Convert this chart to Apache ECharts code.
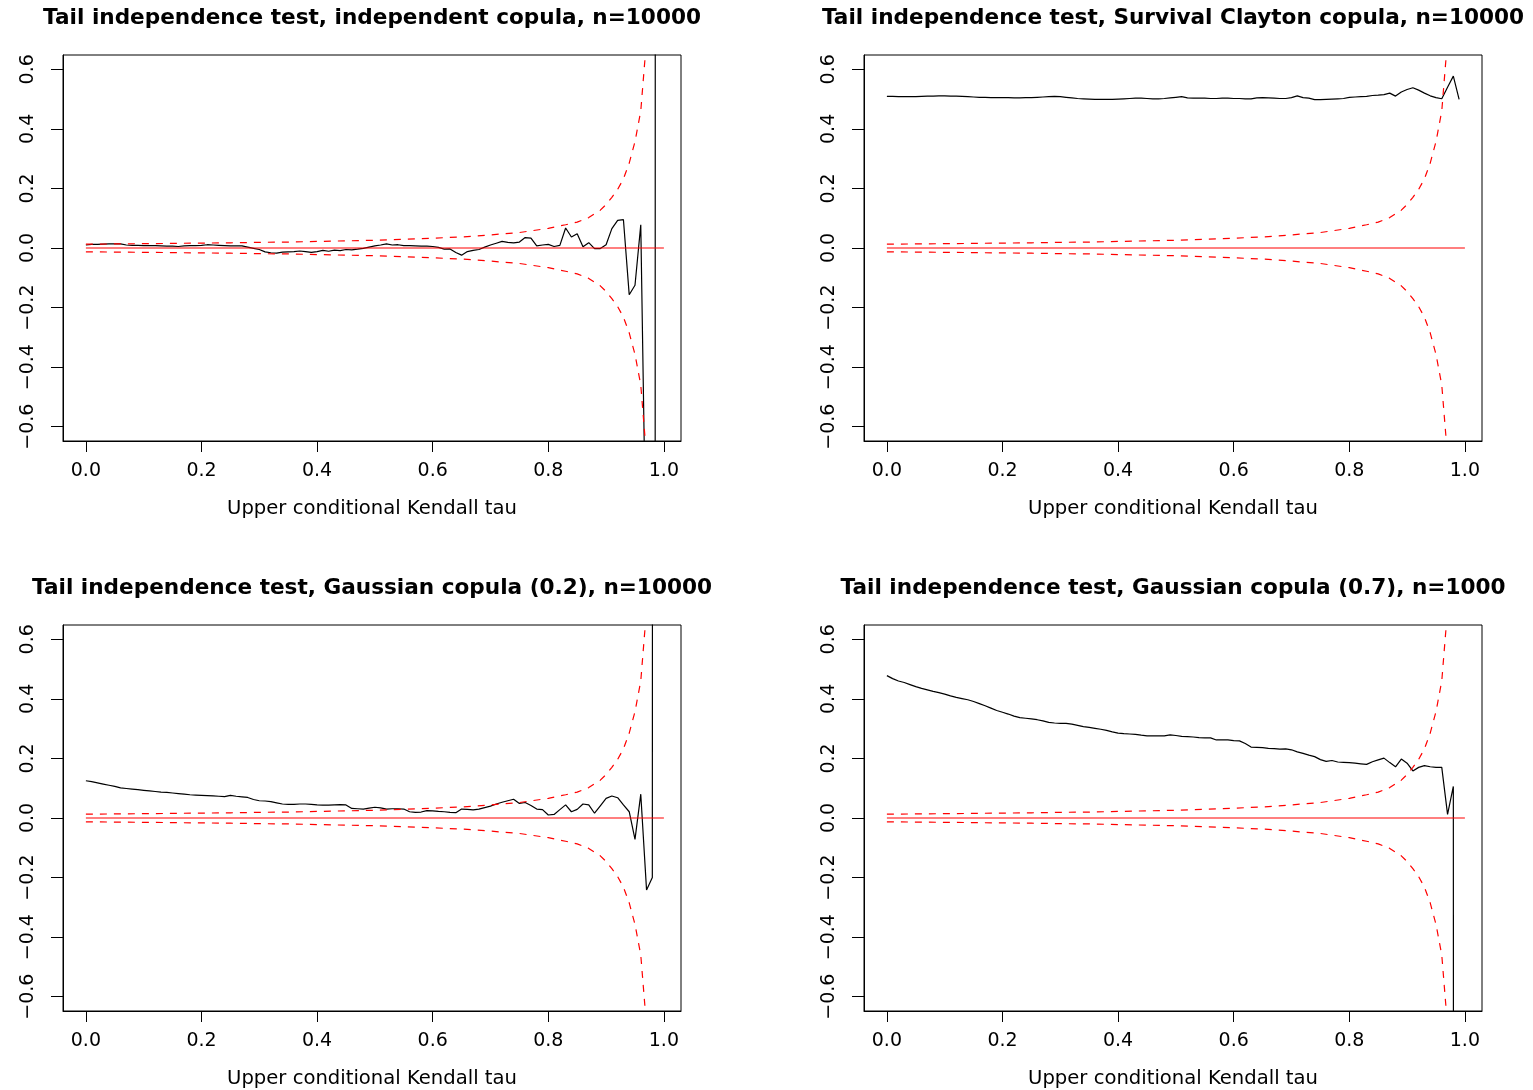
<!DOCTYPE html>
<html><head><meta charset="utf-8">
<script src="https://cdn.jsdelivr.net/npm/echarts@6/dist/echarts.min.js"></script>
<style>html,body{margin:0;padding:0;background:#fff}#c{width:1533px;height:1090px}</style>
</head><body><div id="c"></div>
<script>
// ---- data ----
const tau = [0.00,0.01,0.02,0.03,0.04,0.05,0.06,0.07,0.08,0.09,0.10,0.11,0.12,0.13,0.14,0.15,0.16,0.17,0.18,0.19,
0.20,0.21,0.22,0.23,0.24,0.25,0.26,0.27,0.28,0.29,0.30,0.31,0.32,0.33,0.34,0.35,0.36,0.37,0.38,0.39,
0.40,0.41,0.42,0.43,0.44,0.45,0.46,0.47,0.48,0.49,0.50,0.51,0.52,0.53,0.54,0.55,0.56,0.57,0.58,0.59,
0.60,0.61,0.62,0.63,0.64,0.65,0.66,0.67,0.68,0.69,0.70,0.71,0.72,0.73,0.74,0.75,0.76,0.77,0.78,0.79,
0.80,0.81,0.82,0.83,0.84,0.85,0.86,0.87,0.88,0.89,0.90,0.91,0.92,0.93,0.94,0.95,0.96,0.97,0.98,0.99];

const indepVals = [0.010,0.012,0.012,0.013,0.014,0.014,0.014,0.010,0.009,0.009,
0.008,0.008,0.008,0.007,0.006,0.006,0.005,0.007,0.008,0.008,
0.009,0.011,0.010,0.009,0.008,0.007,0.007,0.007,0.003,-0.001,
-0.005,-0.013,-0.016,-0.017,-0.014,-0.013,-0.012,-0.010,-0.012,-0.015,
-0.012,-0.008,-0.011,-0.007,-0.009,-0.005,-0.006,-0.004,-0.001,0.003,
0.007,0.010,0.014,0.010,0.011,0.008,0.008,0.007,0.006,0.006,
0.005,0.002,-0.004,-0.003,-0.015,-0.024,-0.012,-0.008,-0.005,0.003,
0.010,0.016,0.022,0.019,0.017,0.020,0.035,0.033,0.007,0.010,
0.012,0.005,0.009,0.067,0.037,0.048,0.004,0.018,-0.002,-0.002,
0.011,0.065,0.093,0.095,-0.157,-0.125,0.078,-1.15,-50,50];

const claytonVals = [0.509,0.509,0.508,0.508,0.508,0.508,0.509,0.510,0.510,0.511,
0.511,0.510,0.510,0.509,0.508,0.507,0.506,0.506,0.505,0.505,
0.505,0.505,0.504,0.504,0.505,0.505,0.506,0.507,0.508,0.509,
0.508,0.506,0.504,0.502,0.501,0.500,0.499,0.499,0.499,0.499,
0.500,0.501,0.502,0.503,0.503,0.502,0.501,0.501,0.502,0.504,
0.506,0.508,0.504,0.503,0.503,0.503,0.502,0.502,0.503,0.503,
0.502,0.502,0.501,0.501,0.504,0.505,0.504,0.503,0.502,0.502,
0.505,0.511,0.505,0.503,0.498,0.498,0.499,0.500,0.501,0.502,
0.506,0.507,0.508,0.509,0.512,0.513,0.515,0.520,0.510,0.524,
0.532,0.538,0.530,0.520,0.511,0.505,0.501,0.540,0.577,0.499];

const gauss02Vals = [0.125,0.122,0.118,0.114,0.110,0.106,0.101,0.099,0.097,0.095,
0.093,0.091,0.089,0.087,0.086,0.084,0.082,0.080,0.078,0.077,
0.076,0.075,0.074,0.073,0.072,0.076,0.073,0.071,0.069,0.062,
0.058,0.057,0.055,0.051,0.047,0.046,0.046,0.047,0.047,0.046,
0.044,0.043,0.043,0.044,0.045,0.044,0.032,0.031,0.030,0.033,
0.036,0.034,0.030,0.031,0.031,0.030,0.021,0.019,0.020,0.025,
0.024,0.022,0.021,0.019,0.018,0.030,0.029,0.027,0.030,0.035,
0.040,0.047,0.053,0.058,0.063,0.049,0.052,0.042,0.030,0.028,
0.010,0.012,0.028,0.044,0.021,0.029,0.047,0.044,0.016,0.041,
0.066,0.074,0.068,0.044,0.021,-0.072,0.080,-0.242,-0.200,50];

const gauss07Vals = [0.478,0.468,0.460,0.455,0.448,0.441,0.435,0.430,0.425,0.421,
0.416,0.410,0.405,0.401,0.397,0.391,0.384,0.377,0.369,0.361,
0.355,0.349,0.342,0.337,0.335,0.333,0.330,0.326,0.321,0.319,
0.318,0.318,0.315,0.311,0.307,0.304,0.301,0.298,0.294,0.289,
0.285,0.283,0.282,0.281,0.278,0.276,0.276,0.276,0.276,0.279,
0.277,0.274,0.273,0.272,0.270,0.269,0.269,0.262,0.262,0.262,
0.260,0.259,0.250,0.238,0.237,0.236,0.234,0.233,0.231,0.232,
0.229,0.222,0.217,0.211,0.206,0.196,0.190,0.193,0.188,0.187,
0.186,0.184,0.182,0.180,0.189,0.195,0.201,0.186,0.172,0.198,
0.184,0.158,0.170,0.176,0.172,0.170,0.170,0.012,0.106,-50];

const bandTau   = [0, 0.05, 0.1, 0.15, 0.2, 0.25, 0.3, 0.35, 0.4, 0.45, 0.5, 0.55, 0.6, 0.65, 0.7, 0.75, 0.8, 0.83, 0.85, 0.87, 0.89, 0.9, 0.91, 0.92, 0.93, 0.94, 0.95, 0.96, 0.97, 0.98];
const bandUpper = [0.013, 0.0137, 0.0145, 0.0155, 0.0165, 0.0175, 0.019, 0.020, 0.022, 0.024, 0.026, 0.029, 0.033, 0.037, 0.044, 0.052, 0.066, 0.078, 0.087, 0.102, 0.127, 0.146, 0.170, 0.197, 0.232, 0.285, 0.357, 0.46, 0.70, 1.2];
const bandLower = [-0.013, -0.0137, -0.0145, -0.0155, -0.0165, -0.0175, -0.019, -0.020, -0.022, -0.024, -0.026, -0.029, -0.033, -0.037, -0.044, -0.052, -0.066, -0.078, -0.087, -0.102, -0.127, -0.146, -0.170, -0.197, -0.232, -0.285, -0.357, -0.46, -0.70, -1.2];

const refTau = [0, 1];
const refVal = [0, 0];

const xTicks = [0, 0.2, 0.4, 0.6, 0.8, 1.0];
const yTicks = [-0.6, -0.4, -0.2, 0, 0.2, 0.4, 0.6];

const titles = [
  'Tail independence test, independent copula, n=10000',
  'Tail independence test, Survival Clayton copula, n=10000',
  'Tail independence test, Gaussian copula (0.2), n=10000',
  'Tail independence test, Gaussian copula (0.7), n=1000'
];
const xName = 'Upper conditional Kendall tau';
const panelVals = [indepVals, claytonVals, gauss02Vals, gauss07Vals];

// ---- layout ----
const grids = [
  {left: 63, top: 55, width: 618, height: 386},
  {left: 864, top: 55, width: 618, height: 386},
  {left: 63, top: 625, width: 618, height: 386},
  {left: 864, top: 625, width: 618, height: 386}
];
const FONT = 'DejaVu Sans';
const pairs = (xs, ys) => xs.map((x, i) => [x, ys[i]]);

const series = [];
panelVals.forEach((vals, k) => {
  series.push({type: 'line', xAxisIndex: k, yAxisIndex: k, data: pairs(tau, vals), showSymbol: false, symbol: 'none', clip: true,
    lineStyle: {color: '#000000', width: 1.2}, itemStyle: {color: '#000000'}, z: 2});
  series.push({type: 'line', xAxisIndex: k, yAxisIndex: k, data: pairs(bandTau, bandUpper), showSymbol: false, symbol: 'none', clip: true,
    lineStyle: {color: '#ff0000', width: 1.2, type: [7, 7]}, itemStyle: {color: '#ff0000'}, z: 3});
  series.push({type: 'line', xAxisIndex: k, yAxisIndex: k, data: pairs(bandTau, bandLower), showSymbol: false, symbol: 'none', clip: true,
    lineStyle: {color: '#ff0000', width: 1.2, type: [7, 7]}, itemStyle: {color: '#ff0000'}, z: 3});
  series.push({type: 'line', xAxisIndex: k, yAxisIndex: k, data: pairs(refTau, refVal), showSymbol: false, symbol: 'none', clip: true,
    lineStyle: {color: '#ff0000', width: 1.2}, itemStyle: {color: '#ff0000'}, z: 4});
});

const axisFont = {fontFamily: FONT, fontSize: 19, color: '#000'};
const option = {
  animation: false,
  backgroundColor: '#fff',
  title: titles.map((t, k) => ({
    text: t, left: grids[k].left + grids[k].width / 2, top: grids[k].top - 48, textAlign: 'center', padding: 0,
    textStyle: {fontFamily: FONT, fontWeight: 'bold', fontSize: 21.6, color: '#000'}
  })),
  grid: grids.map(g => Object.assign({show: true, borderColor: '#000', borderWidth: 1, backgroundColor: 'transparent'}, g)),
  xAxis: grids.map((g, k) => ({
    type: 'value', gridIndex: k, min: -0.0396, max: 1.0296, position: 'bottom',
    splitLine: {show: false},
    axisLine: {show: true, onZero: false, lineStyle: {color: '#000', width: 1}},
    axisTick: {show: true, inside: false, length: 11, customValues: xTicks, lineStyle: {color: '#000', width: 1}},
    axisLabel: Object.assign({customValues: xTicks, formatter: v => v.toFixed(1), margin: 21}, axisFont),
    name: xName, nameLocation: 'middle', nameGap: 58,
    nameTextStyle: {fontFamily: FONT, fontSize: 19.6, color: '#000'}
  })),
  yAxis: grids.map((g, k) => ({
    type: 'value', gridIndex: k, min: -0.648, max: 0.648, position: 'left',
    splitLine: {show: false},
    axisLine: {show: true, onZero: false, lineStyle: {color: '#000', width: 1}},
    axisTick: {show: true, inside: false, length: 12, customValues: yTicks, lineStyle: {color: '#000', width: 1}},
    axisLabel: Object.assign({customValues: yTicks, rotate: 90, margin: 25,
      formatter: v => (v < 0 ? '\u2212' : '') + Math.abs(v).toFixed(1)}, axisFont)
  })),
  series: series
};
const chart = echarts.init(document.getElementById('c'), null, {renderer: 'canvas'});
chart.setOption(option);
</script></body></html>
